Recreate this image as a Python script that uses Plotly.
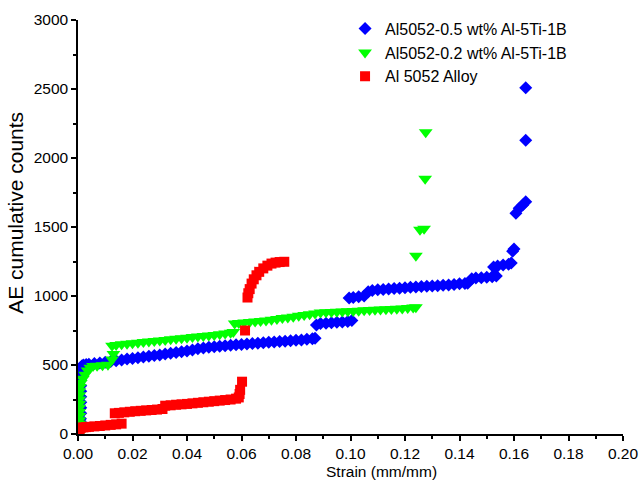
import plotly.graph_objects as go

# ---- data ----
blue_name = "Al5052-0.5 wt% Al-5Ti-1B"
blue_x = [0.0005, 0.0006, 0.0008, 0.0009, 0.001, 0.001, 0.001, 0.001, 0.001, 0.001,
          0.001, 0.001, 0.001, 0.0012, 0.0015, 0.002, 0.003,
          0.004, 0.006, 0.008, 0.010, 0.012, 0.014, 0.016, 0.018, 0.020, 0.022,
          0.024, 0.026, 0.028, 0.030, 0.032, 0.034, 0.036, 0.038, 0.040, 0.042,
          0.044, 0.046, 0.048, 0.050, 0.052, 0.054, 0.056, 0.058, 0.060, 0.062,
          0.064, 0.066, 0.068, 0.070, 0.072, 0.074, 0.076, 0.078, 0.080, 0.082,
          0.084, 0.086, 0.087,
          0.0875, 0.089, 0.091, 0.093, 0.095, 0.097, 0.099, 0.1005,
          0.0995, 0.101, 0.103, 0.105, 0.1065, 0.108, 0.110, 0.112, 0.114, 0.116,
          0.118, 0.120, 0.122, 0.124, 0.126, 0.128, 0.130, 0.132, 0.134, 0.136,
          0.138, 0.140, 0.142, 0.143,
          0.1445, 0.146, 0.148, 0.150, 0.152, 0.1535,
          0.1525, 0.154, 0.156, 0.158, 0.159,
          0.1595, 0.1600, 0.1607, 0.1619, 0.1632, 0.1643, 0.1643, 0.1643]
blue_y = [40, 60, 90, 110, 150, 190, 230, 270, 310, 350,
          390, 430, 460, 485, 495, 500, 503,
          506, 510, 515, 520, 526, 531, 537, 543, 548, 553,
          558, 563, 568, 573, 579, 585, 590, 596, 602, 608,
          617, 624, 628, 632, 636, 640, 643, 646, 649, 652,
          655, 658, 661, 664, 667, 670, 673, 676, 679, 682,
          686, 690, 694,
          790, 800, 803, 806, 809, 812, 816, 822,
          985, 990, 995, 1000, 1030, 1040, 1045, 1048, 1051, 1054,
          1057, 1060, 1063, 1066, 1068, 1070, 1072, 1074, 1077, 1080,
          1083, 1088, 1090, 1092,
          1125, 1130, 1133, 1136, 1140, 1145,
          1210, 1218, 1224, 1230, 1240,
          1325, 1340, 1600, 1635, 1660, 1683, 2128, 2509]

green_name = "Al5052-0.2 wt% Al-5Ti-1B"
green_x = [0.0005, 0.0005, 0.0005, 0.0005, 0.0005, 0.0005, 0.0005, 0.0005, 0.0005,
           0.0005, 0.0005, 0.0005, 0.0007, 0.001, 0.0018, 0.0026,
           0.0035, 0.0045, 0.0055, 0.007, 0.009, 0.011, 0.0125, 0.013,
           0.0125, 0.014, 0.016, 0.018, 0.020, 0.022, 0.024, 0.026, 0.028, 0.030,
           0.032, 0.034, 0.036, 0.038, 0.040, 0.042, 0.044, 0.046, 0.048, 0.050,
           0.052, 0.054, 0.056, 0.057,
           0.0575, 0.059, 0.061, 0.063, 0.065, 0.067, 0.069, 0.071, 0.073, 0.075,
           0.077, 0.079, 0.081, 0.083, 0.085, 0.087, 0.089, 0.091, 0.093, 0.095,
           0.097, 0.099, 0.101, 0.103, 0.105, 0.107, 0.109, 0.111, 0.113, 0.115,
           0.117, 0.119, 0.121, 0.123, 0.124,
           0.124, 0.1255, 0.127, 0.1274, 0.1276]
green_y = [0, 25, 50, 75, 100, 130, 160, 190, 220, 250,
           280, 310, 340, 370, 400, 430,
           460, 480, 492, 495, 498, 502, 540, 580,
           640, 645, 650, 654, 658, 662, 666, 670, 674, 678,
           682, 686, 690, 694, 698, 702, 706, 710, 714, 718,
           723, 728, 734, 740,
           800, 805, 808, 812, 815, 819, 823, 828, 834, 840,
           845, 850, 856, 862, 868, 874, 880, 882, 884, 886,
           888, 890, 892, 894, 896, 898, 900, 902, 904, 906,
           908, 910, 913, 916, 918,
           1292, 1480, 1487, 1849, 2186]

red_name = "Al 5052 Alloy"
red_x = [0.0003, 0.0006, 0.001, 0.002, 0.003, 0.004, 0.006, 0.008, 0.010, 0.012,
         0.014, 0.016,
         0.0135, 0.015, 0.017, 0.019, 0.021, 0.023, 0.025, 0.027, 0.029, 0.031,
         0.032, 0.034, 0.036, 0.038, 0.040, 0.042, 0.044, 0.046, 0.048, 0.050,
         0.052, 0.054, 0.056, 0.058, 0.059, 0.0593, 0.0595, 0.0602,
         0.0613,
         0.0622, 0.0625, 0.063, 0.0637, 0.0645, 0.0655, 0.0665, 0.068, 0.0695,
         0.071, 0.0725, 0.074, 0.0757]
red_y = [20, 35, 45, 48, 50, 52, 55, 58, 62, 66,
         70, 75,
         150, 153, 157, 161, 165, 168, 171, 174, 177, 181,
         205, 208, 212, 215, 218, 222, 226, 230, 234, 238,
         242, 246, 250, 256, 265, 290, 320, 379,
         750,
         989, 1020, 1050, 1090, 1121, 1150, 1175, 1200, 1220,
         1235, 1242, 1246, 1248]

x_ticks = [0.00, 0.02, 0.04, 0.06, 0.08, 0.10, 0.12, 0.14, 0.16, 0.18, 0.20]
x_ticktext = ["0.00", "0.02", "0.04", "0.06", "0.08", "0.10", "0.12", "0.14", "0.16", "0.18", "0.20"]
y_ticks = [0, 500, 1000, 1500, 2000, 2500, 3000]
x_range = [0, 0.20]
y_range = [0, 3000]

FONT = "Liberation Sans, Arial, Helvetica, sans-serif"

fig = go.Figure()
fig.add_trace(go.Scatter(x=blue_x, y=blue_y, mode="markers", name=blue_name,
                         marker=dict(symbol="diamond", size=10, color="#0000FF",
                                     line=dict(width=0))))
fig.add_trace(go.Scatter(x=green_x, y=green_y, mode="markers", name=green_name,
                         marker=dict(symbol="triangle-down", size=12, color="#00FF00",
                                     line=dict(width=0))))
fig.add_trace(go.Scatter(x=red_x, y=red_y, mode="markers", name=red_name,
                         marker=dict(symbol="square", size=10, color="#FF0000",
                                     line=dict(width=0))))

axis_common = dict(showgrid=False, zeroline=False, showline=True, linecolor="black",
                   linewidth=1.5, tickcolor="black", tickwidth=1.5, automargin=False,
                   ticklabeloverflow="allow",
                   tickfont=dict(family=FONT, size=15.5, color="black"))

fig.update_layout(
    width=640, height=486,
    margin=dict(l=78, r=17, t=17, b=52),
    paper_bgcolor="white", plot_bgcolor="white",
    font=dict(family=FONT, color="black"),
    showlegend=True,
    legend=dict(x=0.49, y=1.02, xanchor="left", yanchor="top",
                bgcolor="rgba(0,0,0,0)", borderwidth=0,
                font=dict(family=FONT, size=16, color="black"),
                itemsizing="trace"),
    xaxis=dict(range=x_range, tickmode="array", tickvals=x_ticks, ticktext=x_ticktext,
               ticks="outside", ticklen=5,
               minor=dict(ticks="outside", ticklen=3, dtick=0.01, tickcolor="black"),
               **axis_common),
    yaxis=dict(range=y_range, tickmode="array", tickvals=y_ticks, ticks="outside", ticklen=5,
               minor=dict(ticks="outside", ticklen=3, dtick=250, tickcolor="black"),
               **axis_common),
    xaxis2=dict(range=x_range, overlaying="x", side="top", tickmode="array", tickvals=x_ticks,
                ticks="inside", ticklen=5, showticklabels=False,
                minor=dict(ticks="inside", ticklen=3, dtick=0.01, tickcolor="black"),
                **axis_common),
    yaxis2=dict(range=y_range, overlaying="y", side="right", tickmode="array", tickvals=y_ticks,
                ticks="inside", ticklen=5, showticklabels=False,
                minor=dict(ticks="inside", ticklen=3, dtick=250, tickcolor="black"),
                **axis_common),
    annotations=[
        dict(text="Strain (mm/mm)", xref="paper", yref="paper",
             x=0.557, y=-0.091, xanchor="center", yanchor="middle",
             showarrow=False, font=dict(family=FONT, size=15.5, color="black")),
        dict(text="AE cumulative counts", xref="paper", yref="paper",
             x=-0.115, y=0.535, xanchor="center", yanchor="middle", textangle=-90,
             showarrow=False, font=dict(family=FONT, size=21, color="black")),
    ],
)

fig.write_html("out.html")
